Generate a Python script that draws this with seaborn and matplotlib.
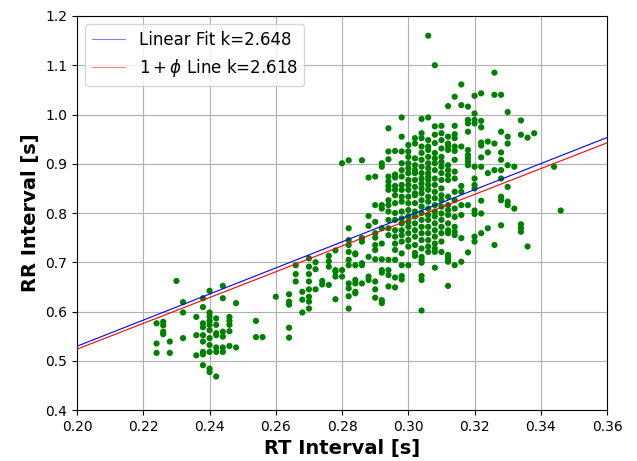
import numpy as np
import pandas as pd
import matplotlib
matplotlib.use("Agg")
import matplotlib.pyplot as plt
import seaborn as sns

# RT interval columns (s) and the RR intervals (s) observed at each
rt_columns = [0.224, 0.226, 0.228, 0.230, 0.232, 0.236, 0.238, 0.240, 0.242, 0.244,
              0.246, 0.248, 0.254, 0.256, 0.260, 0.264, 0.266, 0.268, 0.270, 0.272,
              0.274, 0.276, 0.278, 0.280, 0.282, 0.284, 0.286, 0.288, 0.290, 0.292,
              0.294, 0.296, 0.298, 0.300, 0.302, 0.304, 0.306, 0.308, 0.310, 0.312,
              0.314, 0.316, 0.318, 0.320, 0.322, 0.324, 0.326, 0.328, 0.330, 0.332,
              0.334, 0.336, 0.338, 0.344, 0.346]
rr_values = [
    [0.576, 0.535, 0.516],
    [0.579, 0.572, 0.559, 0.554],
    [0.539, 0.516],
    [0.662],
    [0.619, 0.598, 0.546],
    [0.589, 0.552, 0.511],
    [0.627, 0.609, 0.576, 0.568, 0.552, 0.539, 0.518, 0.513, 0.491],
    [0.642, 0.598, 0.590, 0.581, 0.573, 0.562, 0.546, 0.532, 0.518, 0.484, 0.477],
    [0.586, 0.573, 0.556, 0.552, 0.527, 0.518, 0.468],
    [0.652, 0.627, 0.559, 0.549, 0.527, 0.518],
    [0.589, 0.581, 0.573, 0.560, 0.530],
    [0.617, 0.527],
    [0.581, 0.548],
    [0.548],
    [0.630],
    [0.635, 0.620, 0.614, 0.567, 0.547],
    [0.694, 0.676, 0.661],
    [0.640, 0.624, 0.598],
    [0.708, 0.691, 0.676, 0.661, 0.645, 0.630, 0.620, 0.606],
    [0.700, 0.686, 0.645],
    [0.662, 0.655],
    [0.713, 0.702, 0.691, 0.654],
    [0.724, 0.684, 0.625, 0.681, 0.671],
    [0.901, 0.684, 0.671],
    [0.907, 0.769, 0.745, 0.735, 0.721, 0.705, 0.694, 0.657, 0.647, 0.631, 0.606],
    [0.718, 0.716, 0.694, 0.664, 0.657, 0.640, 0.637],
    [0.907, 0.749, 0.742, 0.698, 0.694, 0.657],
    [0.872, 0.794, 0.774, 0.711, 0.671, 0.664],
    [0.874, 0.816, 0.782, 0.759, 0.750, 0.735, 0.725, 0.706, 0.661, 0.645, 0.628],
    [0.901, 0.894, 0.816, 0.809, 0.769, 0.738, 0.706, 0.684, 0.679, 0.623, 0.617],
    [0.972, 0.925, 0.909, 0.874, 0.864, 0.855, 0.847, 0.826, 0.816, 0.803, 0.786,
     0.769, 0.755, 0.705, 0.684, 0.674, 0.651],
    [0.926, 0.878, 0.872, 0.855, 0.847, 0.836, 0.820, 0.800, 0.786, 0.765, 0.752,
     0.738, 0.725, 0.705, 0.669, 0.649],
    [0.994, 0.955, 0.925, 0.901, 0.887, 0.874, 0.857, 0.847, 0.833, 0.823, 0.803,
     0.789, 0.779, 0.765, 0.755, 0.742, 0.718, 0.694, 0.672, 0.665],
    [0.938, 0.925, 0.914, 0.901, 0.891, 0.881, 0.867, 0.857, 0.847, 0.833, 0.820,
     0.806, 0.793, 0.782, 0.772, 0.759, 0.745, 0.732, 0.694],
    [0.952, 0.941, 0.911, 0.897, 0.887, 0.881, 0.867, 0.853, 0.840, 0.836, 0.820,
     0.803, 0.793, 0.779, 0.765, 0.752, 0.735, 0.719, 0.713],
    [0.991, 0.962, 0.952, 0.935, 0.922, 0.908, 0.894, 0.881, 0.870, 0.860, 0.850,
     0.840, 0.826, 0.813, 0.800, 0.786, 0.772, 0.759, 0.745, 0.728, 0.711, 0.705,
     0.699, 0.672, 0.664, 0.602],
    [1.160, 0.994, 0.948, 0.935, 0.928, 0.914, 0.901, 0.891, 0.881, 0.874, 0.867,
     0.857, 0.847, 0.833, 0.823, 0.809, 0.796, 0.786, 0.772, 0.759, 0.745, 0.732,
     0.721],
    [1.100, 0.976, 0.959, 0.942, 0.922, 0.911, 0.901, 0.887, 0.870, 0.857, 0.843,
     0.830, 0.816, 0.803, 0.793, 0.779, 0.765, 0.752, 0.738, 0.728, 0.721, 0.689],
    [0.977, 0.962, 0.948, 0.931, 0.914, 0.904, 0.894, 0.881, 0.867, 0.850, 0.836,
     0.826, 0.813, 0.799, 0.786, 0.772, 0.759, 0.742, 0.721],
    [1.017, 0.955, 0.941, 0.936, 0.928, 0.897, 0.887, 0.877, 0.867, 0.833, 0.816,
     0.806, 0.796, 0.779, 0.765, 0.759, 0.715, 0.711, 0.705, 0.701, 0.652],
    [1.036, 0.977, 0.960, 0.952, 0.935, 0.926, 0.908, 0.884, 0.870, 0.843, 0.826,
     0.809, 0.792, 0.772, 0.762, 0.755, 0.694],
    [1.061, 1.019, 0.935, 0.855, 0.843, 0.816, 0.796, 0.749, 0.701],
    [1.016, 0.989, 0.982, 0.965, 0.928, 0.918, 0.911, 0.904, 0.897, 0.816, 0.720],
    [1.038, 1.002, 0.989, 0.982, 0.894, 0.870, 0.857, 0.850, 0.805, 0.798, 0.752, 0.742],
    [1.043, 0.987, 0.974, 0.943, 0.937, 0.913, 0.894, 0.825, 0.799, 0.759],
    [0.945, 0.923, 0.881, 0.769],
    [1.085, 1.040, 0.941, 0.887, 0.735],
    [1.040, 0.965, 0.923, 0.908, 0.887, 0.870, 0.833, 0.826, 0.775],
    [1.005, 0.955, 0.941, 0.897, 0.853, 0.823, 0.816],
    [0.894, 0.809],
    [0.988, 0.959, 0.777, 0.769, 0.762],
    [0.953, 0.732],
    [0.962],
    [0.894],
    [0.805],
]

k_fit = 2.648
k_phi = 2.618
fit_label = "Linear Fit k=2.648"
phi_label = r"$1+\phi$ Line k=2.618"

rt = [x for x, ys in zip(rt_columns, rr_values) for _ in ys]
rr = [y for ys in rr_values for y in ys]
df = pd.DataFrame({"RT": rt, "RR": rr})

x_line = np.array([0.19, 0.37])
lines = pd.DataFrame({"x": x_line, "fit": k_fit * x_line, "phi": k_phi * x_line})

fig = plt.figure(figsize=(6.37, 4.61), dpi=100)
ax = fig.add_axes([0.121, 0.1106, 0.832, 0.8547])

sns.scatterplot(data=df, x="RT", y="RR", ax=ax, color="green", s=20,
                edgecolor="none", linewidth=0, zorder=2)
sns.lineplot(data=lines, x="x", y="fit", ax=ax, color="blue", linewidth=0.8,
             label=fit_label, zorder=3)
sns.lineplot(data=lines, x="x", y="phi", ax=ax, color="red", linewidth=0.8,
             label=phi_label, zorder=3)

ax.set_xlim(0.20, 0.36)
ax.set_ylim(0.4, 1.2)
ax.set_xticks(np.arange(0.20, 0.3601, 0.02))
ax.set_yticks(np.arange(0.4, 1.2001, 0.1))
ax.grid(True, color="#b0b0b0", linewidth=0.8, zorder=0)
ax.set_axisbelow(True)
ax.set_xlabel("RT Interval [s]", fontsize=14, fontweight="bold")
ax.set_ylabel("RR Interval [s]", fontsize=14, fontweight="bold")
ax.tick_params(labelsize=10)
leg = ax.legend(loc="upper left", fontsize=12)
for line in leg.get_lines():
    line.set_alpha(0.5)

fig.savefig("out.png", dpi=100)
